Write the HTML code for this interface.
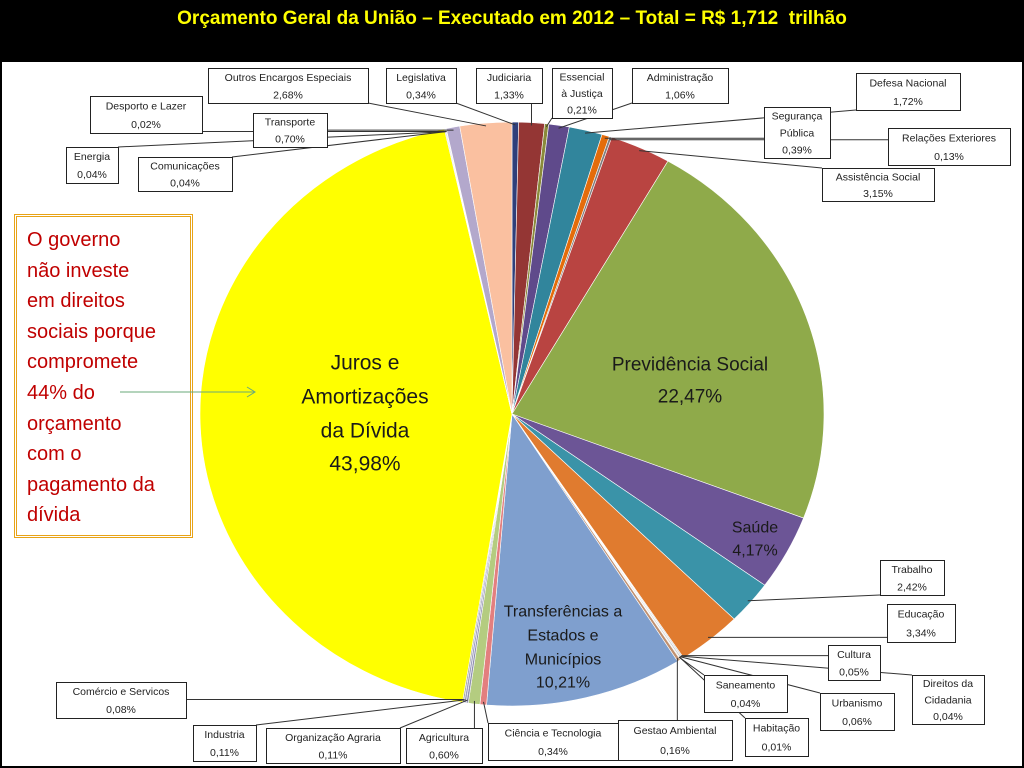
<!DOCTYPE html>
<html><head><meta charset="utf-8">
<style>
html,body{margin:0;padding:0;background:#000;}
#wrap{position:relative;width:1024px;height:768px;background:#000;overflow:hidden;font-family:"Liberation Sans",sans-serif;}
#title{position:absolute;left:0;top:8px;width:1024px;text-align:center;color:#FFFF00;font-weight:bold;font-size:19px;}
#panel{position:absolute;left:2px;top:62px;width:1020px;height:704px;background:#fff;}
#note{position:absolute;left:14px;top:214px;width:173px;height:317px;border:3px double #E8A317;background:#fff;color:#C00000;font-size:20px;line-height:30.6px;padding:8px 0 0 10px;box-sizing:border-box;width:179px;height:324px;}
svg{position:absolute;left:0;top:0;}
</style></head>
<body>
<div id="wrap">
<div id="title">Orçamento Geral da União – Executado em 2012 – Total = R$ 1,712&nbsp; trilhão</div>
<div id="panel"></div>
<div id="note">O governo<br>não investe<br>em direitos<br>sociais porque<br>compromete<br>44% do<br>orçamento<br>com o<br>pagamento da<br>dívida</div>
<svg id="chart" width="1024" height="768"></svg>
</div>
<script>
const categories=["Legislativa","Judiciaria","Essencial à Justiça","Administração","Defesa Nacional","Segurança Pública","Relações Exteriores","Assistência Social","Previdência Social","Saúde","Trabalho","Educação","Cultura","Direitos da Cidadania","Urbanismo","Habitação","Saneamento","Gestao Ambiental","Transferências a Estados e Municípios","Ciência e Tecnologia","Agricultura","Organização Agraria","Industria","Comércio e Servicos","Juros e Amortizações da Dívida","Energia","Comunicações","Desporto e Lazer","Transporte","Outros Encargos Especiais"];
const values=[0.34,1.33,0.21,1.06,1.72,0.39,0.13,3.15,22.47,4.17,2.42,3.34,0.05,0.04,0.06,0.01,0.04,0.16,10.21,0.34,0.60,0.11,0.11,0.08,43.98,0.04,0.04,0.02,0.70,2.68];
const valueLabels=["0,34%","1,33%","0,21%","1,06%","1,72%","0,39%","0,13%","3,15%","22,47%","4,17%","2,42%","3,34%","0,05%","0,04%","0,06%","0,01%","0,04%","0,16%","10,21%","0,34%","0,60%","0,11%","0,11%","0,08%","43,98%","0,04%","0,04%","0,02%","0,70%","2,68%"];
const colors=["#2F3F7A","#943634","#8A8A3A","#5F4A8B","#31859C","#E46C0A","#7F7F7F","#B94441","#8FAA4A","#6C5596","#3A93A8","#E07B2F","#A0A0A0","#8B8BB0","#A9A9A9","#B0B0B0","#C0A080","#C09070","#7F9FCE","#E37F7F","#B4CC80","#9090B0","#A0A0C0","#A0A0A0","#FFFF00","#8080B0","#A0A0A0","#B0B0B0","#B3A8CC","#FAC0A0"];
// label box layout: [x,y,w,h,lines]
const boxes={
"Legislativa":[386,68,70,35,["Legislativa","0,34%"]],
"Judiciaria":[476,68,66,35,["Judiciaria","1,33%"]],
"Essencial à Justiça":[552,68,60,50,["Essencial","à Justiça","0,21%"]],
"Administração":[632,68,96,35,["Administração","1,06%"]],
"Defesa Nacional":[856,73,104,37,["Defesa Nacional","1,72%"]],
"Segurança Pública":[764,107,66,51,["Segurança","Pública","0,39%"]],
"Relações Exteriores":[888,128,122,37,["Relações Exteriores","0,13%"]],
"Assistência Social":[822,168,112,33,["Assistência Social","3,15%"]],
"Trabalho":[880,560,64,35,["Trabalho","2,42%"]],
"Educação":[887,604,68,38,["Educação","3,34%"]],
"Cultura":[828,645,52,35,["Cultura","0,05%"]],
"Direitos da Cidadania":[912,675,72,49,["Direitos da","Cidadania","0,04%"]],
"Urbanismo":[820,693,74,37,["Urbanismo","0,06%"]],
"Habitação":[745,718,63,38,["Habitação","0,01%"]],
"Saneamento":[704,675,83,37,["Saneamento","0,04%"]],
"Gestao Ambiental":[618,720,114,40,["Gestao Ambiental","0,16%"]],
"Ciência e Tecnologia":[488,723,130,37,["Ciência e Tecnologia","0,34%"]],
"Agricultura":[406,728,76,35,["Agricultura","0,60%"]],
"Organização Agraria":[266,728,134,35,["Organização Agraria","0,11%"]],
"Industria":[193,725,63,36,["Industria","0,11%"]],
"Comércio e Servicos":[56,682,130,36,["Comércio e Servicos","0,08%"]],
"Energia":[66,147,52,36,["Energia","0,04%"]],
"Comunicações":[138,157,94,34,["Comunicações","0,04%"]],
"Desporto e Lazer":[90,96,112,37,["Desporto e Lazer","0,02%"]],
"Transporte":[253,113,74,34,["Transporte","0,70%"]],
"Outros Encargos Especiais":[208,68,160,35,["Outros Encargos Especiais","2,68%"]]
};
const svg=document.getElementById('chart');
const NS='http://www.w3.org/2000/svg';
const cx=512,cy=414,rx=312,ry=292;
const total=values.reduce((a,b)=>a+b,0);
function ang(v){return v/total*2*Math.PI;}
function pt(a,k){return [cx+Math.sin(a)*rx*k,cy-Math.cos(a)*ry*k];}
const gS=document.createElementNS(NS,'g');svg.appendChild(gS);
const gL=document.createElementNS(NS,'g');svg.appendChild(gL);
let acc=0;
values.forEach((v,i)=>{
  const a0=ang(acc),a1=ang(acc+v);acc+=v;
  const p0=pt(a0,1),p1=pt(a1,1);
  const large=(a1-a0)>Math.PI?1:0;
  const path=document.createElementNS(NS,'path');
  path.setAttribute('d',`M${cx},${cy}L${p0[0]},${p0[1]}A${rx},${ry} 0 ${large} 1 ${p1[0]},${p1[1]}Z`);
  path.setAttribute('fill',colors[i]);
  path.setAttribute('stroke','#fff');
  path.setAttribute('stroke-width','0.6');
  
  
  gS.appendChild(path);
  const b=boxes[categories[i]];
  if(b){
    const am=(a0+a1)/2;const p=pt(am,0.99);
    const bx=Math.max(b[0],Math.min(b[0]+b[2],p[0]));
    const by=Math.max(b[1],Math.min(b[1]+b[3],p[1]));
    const ln=document.createElementNS(NS,'line');
    ln.setAttribute('x1',p[0]);ln.setAttribute('y1',p[1]);ln.setAttribute('x2',bx);ln.setAttribute('y2',by);
    ln.setAttribute('stroke','#333');ln.setAttribute('stroke-width','1');
    
    
    gL.appendChild(ln);
    const r=document.createElementNS(NS,'rect');
    r.setAttribute('x',b[0]+0.5);r.setAttribute('y',b[1]+0.5);r.setAttribute('width',b[2]);r.setAttribute('height',b[3]);
    r.setAttribute('fill','#fff');r.setAttribute('stroke','#222');r.setAttribute('stroke-width','1');
    
    
    svg.appendChild(r);
    const lines=b[4];const lh=b[3]/lines.length;
    lines.forEach((t,j)=>{
      const tx=document.createElementNS(NS,'text');
      tx.setAttribute('x',b[0]+b[2]/2);tx.setAttribute('y',b[1]+lh*(j+0.5)+4);
      tx.setAttribute('text-anchor','middle');tx.setAttribute('font-size','10.5');
      tx.setAttribute('font-family','Liberation Sans, sans-serif');tx.setAttribute('fill','#222');
      
      
      tx.textContent=t;svg.appendChild(tx);
    });
  }
});
const big=[[24,365,[362,396,430,463],21,["Juros e","Amortizações","da Dívida"]],[8,690,[364,396],19,["Previdência Social"]],[9,755,[527,550],16,["Saúde"]],[18,563,[611,635,659,682],16,["Transferências a","Estados e","Municípios"]]];
big.forEach(bg=>{
  const lines=bg[4].concat([valueLabels[bg[0]]]);
  lines.forEach((t,j)=>{
    const tx=document.createElementNS(NS,'text');
    tx.setAttribute('x',bg[1]);tx.setAttribute('y',bg[2][j]+bg[3]*0.35);
    tx.setAttribute('text-anchor','middle');tx.setAttribute('font-size',bg[3]);
    tx.setAttribute('font-family','Liberation Sans, sans-serif');tx.setAttribute('fill','#1a1a1a');
    
    
    tx.textContent=t;svg.appendChild(tx);
  });
});
const ar=document.createElementNS(NS,'path');
ar.setAttribute('d','M120,392L255,392M247,387L255,392L247,397');
ar.setAttribute('stroke','#6aaa7a');ar.setAttribute('fill','none');ar.setAttribute('stroke-width','1');


svg.appendChild(ar);
</script>
</body></html>
